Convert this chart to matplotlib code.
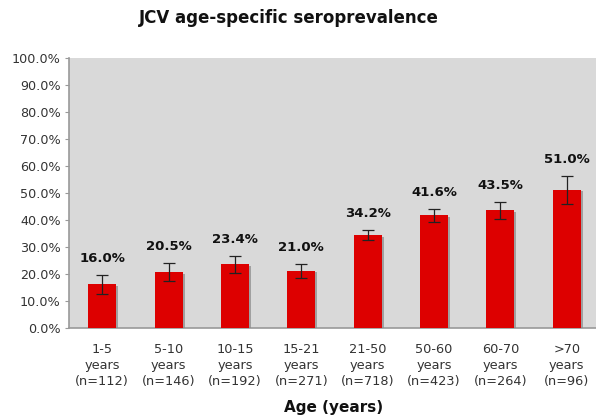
import numpy as np
import matplotlib
matplotlib.use("Agg")
import matplotlib.pyplot as plt
import matplotlib.patheffects as pe
from matplotlib.ticker import FuncFormatter

# data
age_groups = ["1-5", "5-10", "10-15", "15-21", "21-50", "50-60", "60-70", ">70"]
n_sizes = [112, 146, 192, 271, 718, 423, 264, 96]
seroprev = [16.0, 20.5, 23.4, 21.0, 34.2, 41.6, 43.5, 51.0]
err = [3.5, 3.3, 3.1, 2.5, 1.8, 2.4, 3.1, 5.1]

tick_labels = [f"{a}\nyears\n(n={n})" for a, n in zip(age_groups, n_sizes)]

plt.rcParams['font.family'] = ['DejaVu Sans']

fig = plt.figure(figsize=(5.96, 4.19), dpi=100)
ax = fig.add_axes([69/596, (419-327.5)/419, (600-69)/596, (327.5-58)/419])
ax.set_facecolor('#d9d9d9')

x = np.arange(len(seroprev))
bars = ax.bar(x, seroprev, width=0.42, color='#dd0000', zorder=3)
for b in bars:
    b.set_path_effects([pe.SimplePatchShadow(offset=(1.5, -1.0), shadow_rgbFace='#888888', alpha=0.7),
                        pe.Normal()])
ax.errorbar(x, seroprev, yerr=err, fmt='none', ecolor='#222222', elinewidth=0.9,
            capsize=4, capthick=0.9, zorder=4)

for xi, v, e in zip(x, seroprev, err):
    ax.text(xi, v + e + 6.2, f"{v:.1f}%", ha='center', va='center',
            fontsize=9.5, fontweight='bold', color='#111111')

ax.set_xlim(-0.5, len(seroprev) - 0.5)
ax.set_ylim(0, 100)
ax.set_yticks(np.arange(0, 101, 10))
ax.yaxis.set_major_formatter(FuncFormatter(lambda v, p: f"{v:.1f}%"))
ax.set_xticks(x)
ax.set_xticklabels(tick_labels, fontsize=9.3, color='#333333', linespacing=1.3)
ax.tick_params(axis='y', labelsize=9.2, colors='#333333', length=3, width=0.8, pad=3)
ax.tick_params(axis='x', length=0, pad=11)
for lab in ax.get_yticklabels():
    lab.set_color('#333333')

for s in ['top', 'right']:
    ax.spines[s].set_visible(False)
for s in ['left', 'bottom']:
    ax.spines[s].set_color('#999999')
    ax.spines[s].set_linewidth(1.2)
ax.tick_params(axis='y', color='#999999')

fig.text(289/596, 1 - 18/419, "JCV age-specific seroprevalence", ha='center', va='center',
         fontsize=12, fontweight='bold', color='#111111')
fig.text(334/596, 1 - 407/419, "Age (years)", ha='center', va='center',
         fontsize=11, fontweight='bold', color='#111111')

fig.savefig("out.png", dpi=100)
